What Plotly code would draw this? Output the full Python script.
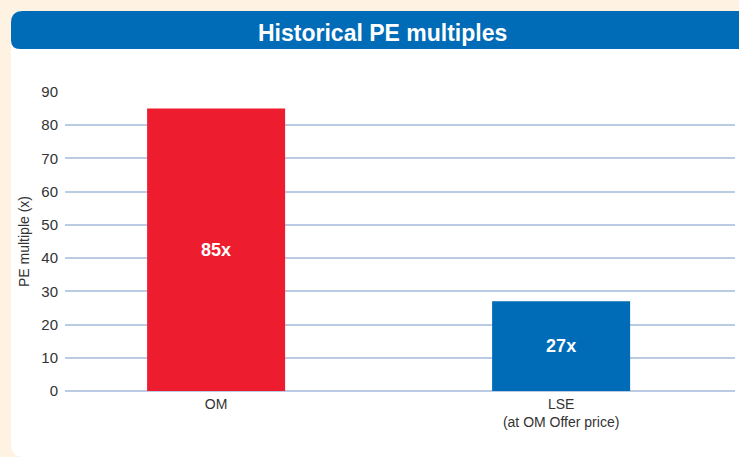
import plotly.graph_objects as go

categories = ["OM", "LSE<br>(at OM Offer price)"]
values = [85, 27]
bar_labels = ["85x", "27x"]
bar_colors = ["#ed1c2e", "#006bb6"]
y_ticks = [0, 10, 20, 30, 40, 50, 60, 70, 80, 90]

W, H = 739, 457
FONT = "Liberation Sans, Arial, sans-serif"

def px(x):
    return x / W

def py(y):
    return 1 - y / H

panel = (f"M {px(11)},{py(24)} Q {px(11)},{py(11)} {px(24)},{py(11)} "
         f"L {px(745)},{py(11)} L {px(745)},{py(457)} L {px(24)},{py(457)} "
         f"Q {px(11)},{py(457)} {px(11)},{py(444)} Z")
header = (f"M {px(11)},{py(23)} Q {px(11)},{py(11)} {px(23)},{py(11)} "
          f"L {px(745)},{py(11)} L {px(745)},{py(49)} L {px(20)},{py(49)} "
          f"Q {px(11)},{py(49)} {px(11)},{py(40)} Z")

fig = go.Figure()
fig.add_trace(go.Bar(
    x=[0, 1], y=values, width=0.4,
    marker=dict(color=bar_colors, line=dict(width=0)),
    text=bar_labels, textposition="inside", insidetextanchor="middle",
    textfont=dict(family=FONT, size=18, color="white"),
    texttemplate="<b>%{text}</b>", hoverinfo="skip",
))

fig.update_layout(
    width=W, height=H, autosize=False,
    margin=dict(l=0, r=0, t=0, b=0, pad=0, autoexpand=False),
    paper_bgcolor="#fef2e2",
    plot_bgcolor="rgba(0,0,0,0)",
    showlegend=False,
    font=dict(family=FONT, size=15, color="#333333"),
    xaxis=dict(
        domain=[px(65), px(735)], range=[-0.438, 1.504], automargin=False,
        tickvals=[0, 1], ticktext=categories,
        showgrid=False, zeroline=False, showline=False, ticks="",
        ticklabelstandoff=3,
        tickfont=dict(size=14, color="#333333"),
    ),
    yaxis=dict(
        domain=[py(391), py(92)], range=[0, 90], automargin=False,
        tickvals=y_ticks, showgrid=True, gridcolor="#bccbe4", gridwidth=1.5,
        zeroline=True, zerolinecolor="#bccbe4", zerolinewidth=1.5,
        showline=False, ticks="", ticklabelstandoff=6,
        tickfont=dict(size=15, color="#333333"),
        title=dict(text="PE multiple (x)", font=dict(size=14, color="#333333"), standoff=8),
    ),
    shapes=[
        dict(type="path", path=panel, xref="paper", yref="paper",
             fillcolor="white", line=dict(width=0), layer="below"),
        dict(type="path", path=header, xref="paper", yref="paper",
             fillcolor="#006bb6", line=dict(width=0), layer="below"),
    ],
    annotations=[
        dict(text="<b>Historical PE multiples</b>", x=px(382), y=py(33),
             xref="paper", yref="paper", showarrow=False,
             font=dict(size=23, color="white", family=FONT),
             xanchor="center", yanchor="middle"),
    ],
)

fig.write_html("out.html", config={"displayModeBar": False},
               post_script="document.body.style.margin='0';document.body.style.overflow='hidden';")
